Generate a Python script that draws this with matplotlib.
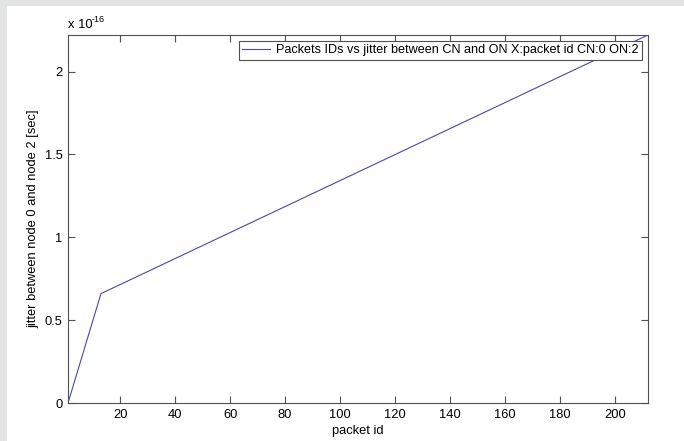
import matplotlib
matplotlib.use("Agg")
import matplotlib.pyplot as plt
from matplotlib.patches import Rectangle
from matplotlib.ticker import FuncFormatter

packet_id = [1, 13, 212]
jitter = [0.0, 0.66e-16, 2.2204e-16]
x_ticks = [20, 40, 60, 80, 100, 120, 140, 160, 180, 200]
y_ticks = [0, 0.5e-16, 1.0e-16, 1.5e-16, 2.0e-16]
legend_label = "Packets IDs vs jitter between CN and ON X:packet id CN:0 ON:2"

plt.rcParams['font.family'] = ['Liberation Sans', 'DejaVu Sans']
plt.rcParams['font.size'] = 9

fig = plt.figure(figsize=(6.84, 4.41), dpi=100)
fig.patch.set_facecolor('white')
W, H = 684, 441
gray = '#e3e5e5'
fig.patches.append(Rectangle((0, 1 - 6 / H), 1, 6 / H, transform=fig.transFigure,
                             facecolor=gray, edgecolor='none', zorder=-10))
fig.patches.append(Rectangle((0, 0), 7 / W, 1, transform=fig.transFigure,
                             facecolor=gray, edgecolor='none', zorder=-10))

left, right, top, bottom = 68, 648, 35, 403
ax = fig.add_axes([left / W, 1 - bottom / H, (right - left) / W, (bottom - top) / H])
ax.plot(packet_id, jitter, color='#4848b0', lw=0.8, label=legend_label)
ax.set_xlim(1, 212)
ax.set_ylim(0, 2.2204e-16)
ax.set_xticks(x_ticks)
ax.set_yticks(y_ticks)
ax.yaxis.set_major_formatter(FuncFormatter(lambda v, p: f"{v / 1e-16:g}"))
ax.tick_params(direction='in', length=5, width=0.8, top=True, right=True,
               colors='#505050', labelcolor='black', labelsize=9.3, pad=4)
for s in ax.spines.values():
    s.set_color('#505050')
    s.set_linewidth(0.8)
ax.set_xlabel("packet id", fontsize=9.3, labelpad=3)
ax.set_ylabel("jitter between node 0 and node 2 [sec]", fontsize=9.3, labelpad=4)
ax.text(0.0, 1.012, "x 10", transform=ax.transAxes, fontsize=9.3,
        ha='left', va='bottom')
ax.text(0.041, 1.03, "-16", transform=ax.transAxes, fontsize=6.5,
        ha='left', va='bottom')
leg = ax.legend(loc='upper right', fontsize=9.1, frameon=True, fancybox=False,
                borderaxespad=0.5, handlelength=2.2, borderpad=0.25,
                handletextpad=0.5)
leg.get_frame().set_edgecolor('#505050')
leg.get_frame().set_linewidth(0.8)
leg.get_frame().set_alpha(1)

fig.savefig("out.png", dpi=100)
